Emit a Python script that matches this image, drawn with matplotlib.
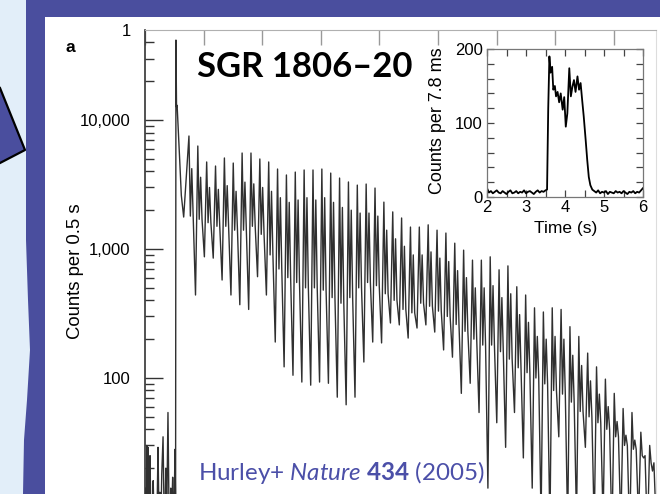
import numpy as np
import matplotlib
matplotlib.use('Agg')
import matplotlib.pyplot as plt
from matplotlib.patches import Polygon, Rectangle
from matplotlib.lines import Line2D
from matplotlib.ticker import MultipleLocator, NullFormatter

plt.rcParams['font.family'] = ['Liberation Sans', 'DejaVu Sans']
plt.rcParams['mathtext.fontset'] = 'custom'
plt.rcParams['mathtext.rm'] = 'Lato'
plt.rcParams['mathtext.it'] = 'Lato:italic'
plt.rcParams['mathtext.bf'] = 'Lato:bold'

# ---- 主图数据 (0.5 s 分辨率光变曲线, 从图上读取) ----
pre_t = [0.0, 0.5, 1.0, 1.5, 2.0, 2.6, 3.1, 3.6, 4.3, 4.9, 5.5, 6.2, 7.0, 7.8, 8.6,
         9.4, 10.2, 11.1, 11.9, 12.7, 13.5, 14.3, 15.4, 16.2, 17.0, 17.8, 18.6,
         19.6, 20.4, 21.2, 22.0, 22.8, 23.6, 24.4, 25.0, 25.6, 26.1]
pre_counts = [9, 14, 8, 30, 10, 29, 7, 12, 25, 9, 11, 8, 16, 7, 10,
              12, 8, 29, 9, 13, 7, 18, 35, 10, 8, 20, 9,
              54, 11, 8, 14, 9, 17, 7, 12, 28, 10]

spike_t = [26.4, 26.9, 27.4, 28.2, 29.6, 31.0, 33.0]
spike_counts = [41700, 12600, 13000, 9000, 4900, 2600, 1770]

period = 7.56
first_pulse = 37.5

pulse_peak = [7520, 6290, 4730, 4400, 5080, 4640, 5550, 5550, 4990, 4730,
              4170, 3750, 3950, 4100, 4100, 4170, 3880, 3550, 3310, 3130,
              3190, 2970, 2310, 1940, 1740, 1480, 1480, 1540, 1400, 1330,
              1110, 980, 820, 820, 870, 690, 740, 510, 440, 350,
              325, 350, 340, 250, 210, 156, 122, 98, 76, 58,
              54, 38, 30, 45]
pulse_second = [4200, 3600, 3000, 2900, 3100, 2800, 3300, 3200, 3000, 2800,
                2500, 2300, 2400, 2500, 2400, 2500, 2300, 2100, 2000, 1900,
                1900, 1800, 1400, 1200, 1050, 900, 900, 950, 850, 800,
                680, 600, 500, 500, 520, 420, 450, 310, 270, 210,
                200, 210, 200, 150, 125, 95, 75, 60, 46, 36,
                33, 24, 19, 27]
pulse_shoulder = [1800, 1700, 1600, 1500, 1500, 1400, 1400, 1500, 1300, 900,
                  700, 600, 550, 500, 500, 480, 420, 380, 420, 500,
                  550, 520, 450, 400, 340, 320, 380, 360, 330, 300,
                  260, 230, 200, 180, 180, 160, 140, 120, 110, 100,
                  90, 80, 75, 65, 55, 50, 45, 40, 35, 30,
                  28, 25, 22, 22]
pulse_trough = [440, 870, 850, 575, 440, 370, 340, 610, 440, 190,
                122, 105, 93, 88, 93, 91, 71, 62, 71, 133,
                190, 187, 267, 258, 204, 244, 258, 227, 165, 145,
                76, 91, 54, 14, 45, 29, 54, 24, 14, 8,
                7, 35, 7, 8, 29, 7, 8, 6, 7, 6,
                8, 6, 7, 6]

# ---- 插图数据 (7.8 ms 分辨率) ----
inset_base1 = [12, 6, 8, 5, 7, 9, 6, 5, 8, 6, 4, 7, 9, 5, 6, 8, 5, 7, 6, 9,
               5, 7, 8, 6, 4, 7, 9, 6, 8, 7, 9, 10]
flare_t = [3.57, 3.60, 3.63, 3.67, 3.70, 3.74, 3.77, 3.81, 3.85, 3.89, 3.94,
           3.98, 4.02, 4.06, 4.11, 4.15, 4.19, 4.23, 4.27, 4.32, 4.36, 4.40,
           4.44, 4.48, 4.53, 4.57, 4.61, 4.65, 4.70]
flare_counts = [120, 190, 168, 176, 145, 150, 136, 142, 128, 140, 118,
                135, 95, 113, 174, 136, 149, 158, 142, 163, 145, 154,
                131, 109, 77, 50, 27, 16, 10]
inset_base2 = [8, 6, 9, 5, 7, 6, 8, 4, 7, 6, 5, 8, 6, 7, 5, 8, 6, 4, 7, 6,
               8, 5, 7, 6, 9, 12]

W, H = 660, 494
dark_blue = '#4a4e9e'
light_blue = '#e2eef9'
cite_blue = '#4b4fa8'


def fx(x):
    return x / W


def fy(y):
    return 1 - y / H


# 拼接主图曲线: 每个脉冲 = 主峰, 肩部, 次峰, 肩部, 谷
t_all = list(pre_t) + list(spike_t)
c_all = list(pre_counts) + list(spike_counts)
for k in range(len(pulse_peak)):
    t0 = first_pulse + k * period
    t_all += [t0, t0 + 1.2, t0 + 2.4, t0 + 3.6, t0 + 5.6]
    c_all += [pulse_peak[k], pulse_shoulder[k], pulse_second[k],
              pulse_shoulder[k], pulse_trough[k]]

base1_t = np.round(np.arange(len(inset_base1) - 1) * 0.05 + 2.0, 2).tolist() + [3.54]
base2_t = np.round(np.arange(len(inset_base2)) * 0.05 + 4.75, 2).tolist()
inset_t = base1_t + flare_t + base2_t
inset_c = inset_base1 + flare_counts + inset_base2

fig = plt.figure(figsize=(6.6, 4.94), dpi=100)
fig.patch.set_facecolor(light_blue)

# 幻灯片背景
fig.add_artist(Rectangle((fx(45), 0), 1 - fx(45), fy(17), transform=fig.transFigure,
                         facecolor='white', edgecolor='none', zorder=-5))
band = [(26, 0), (660, 0), (660, 17), (45, 17), (45, 494), (23, 494), (24, 440),
        (27, 400), (30, 350), (28, 300), (26, 240)]
fig.add_artist(Polygon([(fx(x), fy(y)) for x, y in band], closed=True,
                       transform=fig.transFigure, facecolor=dark_blue,
                       edgecolor='none', zorder=-4))
tri = [(0, 88), (25, 150), (0, 163)]
fig.add_artist(Polygon([(fx(x), fy(y)) for x, y in tri], closed=True,
                       transform=fig.transFigure, facecolor=dark_blue,
                       edgecolor='none', zorder=-4))
fig.add_artist(Line2D([fx(x) for x, y in tri], [fy(y) for x, y in tri],
                      transform=fig.transFigure, color='black', lw=1.6, zorder=-3))

# 主图
ax = fig.add_axes([fx(145), fy(545.8), (656 - 145) / W, (545.8 - 30) / H])
ax.plot(t_all, c_all, color='#303030', lw=1.0)
ax.set_yscale('log')
ax.set_ylim(5, 49900)
ax.set_xlim(0, 436)
ax.xaxis.set_major_locator(MultipleLocator(50))
ax.tick_params(axis='x', which='both', direction='in', top=True, bottom=True,
               labelbottom=False, length=11, width=1, color='#999999')
ax.set_yticks([100, 1000, 10000])
ax.set_yticklabels(['100', '1,000', '10,000'])
ax.yaxis.set_minor_formatter(NullFormatter())
ax.tick_params(axis='y', which='major', direction='in', length=13, width=1,
               color='#333333', labelsize=12, pad=10.5)
ax.tick_params(axis='y', which='minor', direction='in', length=6.5, width=1,
               color='#333333')
ax.spines['left'].set_color('#333333')
ax.spines['left'].set_linewidth(1.2)
ax.spines['top'].set_color('#b0b0b0')
ax.spines['right'].set_color('#dddddd')
ax.spines['right'].set_linewidth(0.8)

fig.text(fx(131), fy(31), '1', ha='right', va='center', fontsize=12)
fig.text(fx(65), fy(47), 'a', ha='left', va='center', fontsize=12.5, fontweight='bold')
fig.text(fx(75), fy(271), 'Counts per 0.5 s', rotation=90, ha='center',
         va='center', fontsize=13.3)

title = fig.text(fx(197), fy(77), 'SGR 1806–20', ha='left', va='baseline',
                 fontsize=22, fontweight='bold', family=['Lato', 'DejaVu Sans'])
cite = fig.text(fx(198), fy(480), r'Hurley+ $\mathit{Nature}$ $\mathbf{434}$ (2005)',
                ha='left', va='baseline', fontsize=15, color=cite_blue,
                family=['Lato', 'DejaVu Sans'])

# 插图
axin = fig.add_axes([fx(487), fy(197), 156 / W, 148 / H])
axin.plot(inset_t, inset_c, color='black', lw=1.3)
axin.set_xlim(2, 6)
axin.set_ylim(0, 200)
axin.xaxis.set_major_locator(MultipleLocator(1))
axin.xaxis.set_minor_locator(MultipleLocator(0.5))
axin.yaxis.set_major_locator(MultipleLocator(100))
axin.yaxis.set_minor_locator(MultipleLocator(20))
axin.tick_params(which='both', direction='in', top=True, right=True, length=5,
                 width=0.9, color='#444444', labelsize=12, pad=2)
axin.tick_params(axis='y', pad=3)
for s in axin.spines.values():
    s.set_color('#777777')
    s.set_linewidth(0.9)
fig.text(fx(437), fy(121), 'Counts per 7.8 ms', rotation=90, ha='center',
         va='center', fontsize=13)
fig.text(fx(566), fy(229), 'Time (s)', ha='center', va='center', fontsize=12.5)

# 按参考图调整文字宽度
fig.canvas.draw()
for txt, target in [(title, 215), (cite, 287)]:
    w = txt.get_window_extent().width
    txt.set_fontsize(txt.get_fontsize() * target / w)

fig.savefig('out.png', dpi=100, facecolor=fig.get_facecolor())
